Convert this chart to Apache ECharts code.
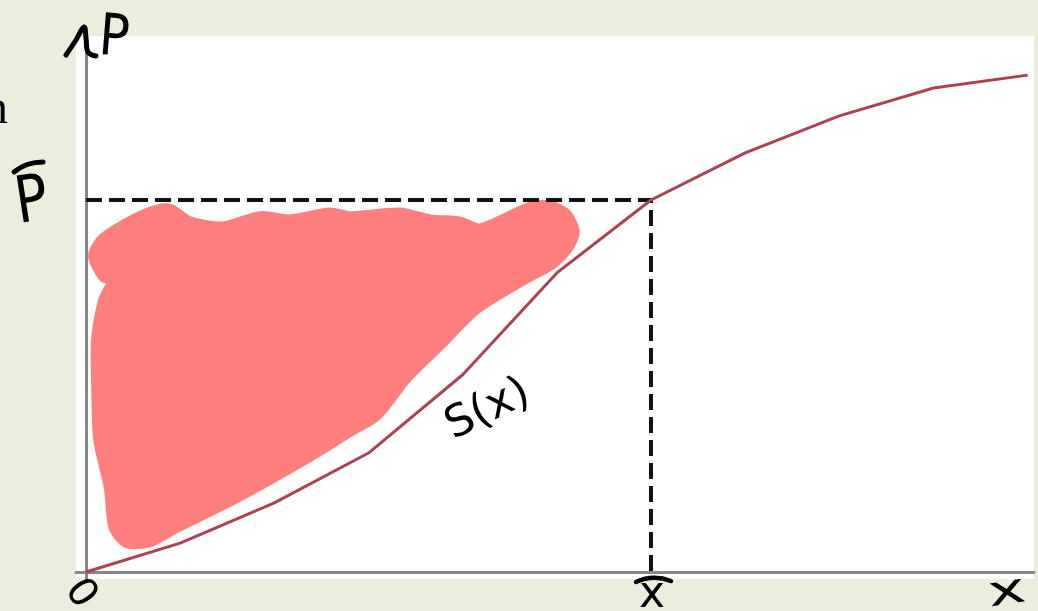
<!DOCTYPE html>
<html>
<head>
<meta charset="utf-8">
<style>
  html, body { margin: 0; padding: 0; background: #ebeedd; }
  #chart { width: 1038px; height: 611px; }
</style>
<script src="https://cdn.jsdelivr.net/npm/echarts@6/dist/echarts.min.js"></script>
</head>
<body>
<div id="chart"></div>
<script>
// curve S(x): x from 0 to 10
const xValues = [0, 1, 2, 3, 4, 5, 6, 7, 8, 9, 10]
const sValues = [0, 0.054, 0.129, 0.222, 0.368, 0.558, 0.694, 0.782, 0.851, 0.903, 0.927]

// the marked point (x̄, P̄)
const xBar = 6
const pBar = 0.694

// outline of the red hand-drawn patch, in data units [x, y]
const blobOutline = [
  [0.085, 0.590], [0.190, 0.622], [0.573, 0.662], [0.871, 0.677], [1.104, 0.652],
  [1.455, 0.643], [1.848, 0.662], [2.166, 0.656], [2.591, 0.669], [2.803, 0.662],
  [3.334, 0.669], [3.653, 0.656], [3.972, 0.652], [4.184, 0.639], [4.715, 0.679],
  [4.927, 0.682], [5.100, 0.666], [5.180, 0.634], [5.110, 0.605], [4.940, 0.575],
  [4.680, 0.550], [4.150, 0.493], [3.775, 0.428], [3.400, 0.363], [3.085, 0.293],
  [2.820, 0.265], [2.340, 0.213], [1.600, 0.140], [0.970, 0.085], [0.670, 0.057],
  [0.430, 0.056], [0.300, 0.085], [0.255, 0.156], [0.140, 0.248], [0.118, 0.358],
  [0.118, 0.433], [0.190, 0.505], [0.290, 0.545], [0.190, 0.552]
]

const chart = echarts.init(document.getElementById('chart'))

const option = {
  backgroundColor: '#ebeedd',
  animation: false,
  grid: {
    left: 76, right: 4, top: 36, bottom: 32,
    show: true, backgroundColor: '#ffffff', borderWidth: 0
  },
  xAxis: {
    type: 'value',
    min: -0.106,
    max: 10.067,
    axisLine: { show: true, onZero: true, lineStyle: { color: '#888888', width: 3 } },
    axisTick: { show: false },
    axisLabel: { show: false },
    splitLine: { show: false }
  },
  yAxis: {
    type: 'value',
    min: -0.013,
    max: 1,
    axisLine: { show: true, onZero: true, lineStyle: { color: '#888888', width: 3 } },
    axisTick: { show: false },
    axisLabel: { show: false },
    splitLine: { show: false }
  },
  series: [
    {
      // red patch
      type: 'custom',
      coordinateSystem: 'cartesian2d',
      z: 1,
      silent: true,
      data: [[0, 0]],
      renderItem: (params, api) => ({
        type: 'polygon',
        shape: { points: blobOutline.map(p => api.coord(p)), smooth: 0.25 },
        style: { fill: '#ff7f7f', stroke: '#ff7f7f', lineWidth: 12, lineJoin: 'round' }
      })
    },
    {
      // dashed guides to (x̄, P̄)
      type: 'line',
      z: 3,
      symbol: 'none',
      silent: true,
      data: [[0, pBar], [xBar, pBar], [xBar, 0]],
      lineStyle: { color: '#111111', width: 4, type: [16, 7] }
    },
    {
      type: 'line',
      z: 4,
      symbol: 'none',
      silent: true,
      data: xValues.map((x, i) => [x, sValues[i]]),
      lineStyle: { color: '#ad4250', width: 3 }
    }
  ],
  graphic: [
    // hand-drawn arrow at the top of the P axis
    {
      type: 'polyline', z: 10,
      shape: { points: [[66, 55], [76, 40], [84, 27], [86, 38], [88, 52], [96, 56]], smooth: 0.4 },
      style: { stroke: '#000', lineWidth: 5, lineCap: 'round', lineJoin: 'round', fill: null }
    },
    {
      type: 'text', z: 10, x: 114, y: 40, rotation: -0.08, scaleY: 1.15,
      style: { text: 'P', font: '50px "DejaVu Sans"', fill: '#000', align: 'center', verticalAlign: 'middle' }
    },
    // P̄ on the left
    {
      type: 'bezierCurve', z: 10,
      shape: { x1: 14, y1: 172, x2: 43, y2: 162, cpx1: 26, cpy1: 162 },
      style: { stroke: '#000', lineWidth: 5, lineCap: 'round', fill: null }
    },
    {
      type: 'text', z: 10, x: 32, y: 204, rotation: 0.15, scaleY: 1.2,
      style: { text: 'P', font: '54px "DejaVu Sans"', fill: '#000', align: 'center', verticalAlign: 'middle' }
    },
    // cut-off word at the left edge
    {
      type: 'text', z: 10, x: 8, y: 110,
      style: { text: 'n', font: '48px "Liberation Serif"', fill: '#000', align: 'right', verticalAlign: 'middle' }
    },
    // origin
    {
      type: 'text', z: 10, x: 80, y: 594, rotation: -0.96,
      style: { text: '0', font: '40px "DejaVu Sans"', fill: '#000', align: 'center', verticalAlign: 'middle' }
    },
    // x̄ under the axis
    {
      type: 'bezierCurve', z: 10,
      shape: { x1: 636, y1: 582, x2: 671, y2: 581, cpx1: 653, cpy1: 574 },
      style: { stroke: '#000', lineWidth: 4.5, lineCap: 'round', fill: null }
    },
    {
      type: 'text', z: 10, x: 652, y: 596,
      style: { text: 'x', font: '44px "DejaVu Sans"', fill: '#000', align: 'center', verticalAlign: 'middle' }
    },
    // x at the end of the axis
    {
      type: 'text', z: 10, x: 1007, y: 593, rotation: 0.15, scaleX: 1.45, scaleY: 0.95,
      style: { text: 'x', font: '44px "DejaVu Sans"', fill: '#000', align: 'center', verticalAlign: 'middle' }
    },
    // curve label
    {
      type: 'text', z: 10, x: 488, y: 410, rotation: 0.45,
      style: { text: 'S(x)', font: '44px "DejaVu Sans"', fill: '#000', align: 'center', verticalAlign: 'middle' }
    }
  ]
}

chart.setOption(option)
</script>
</body>
</html>
